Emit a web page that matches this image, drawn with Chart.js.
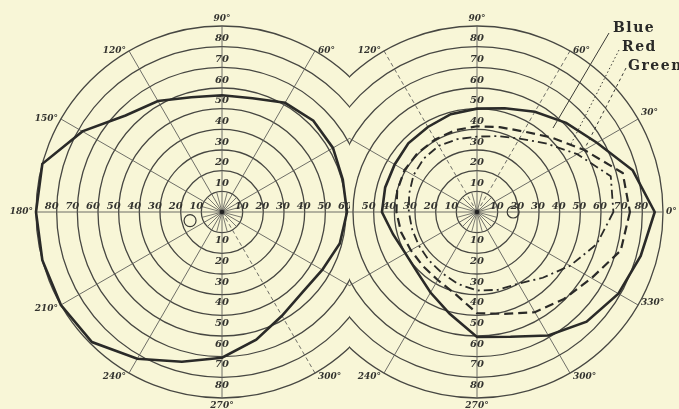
<!DOCTYPE html>
<html><head><meta charset="utf-8">
<script src="https://cdn.jsdelivr.net/npm/chart.js@4"></script>
<style>
html,body{margin:0;padding:0;background:#f8f6d7;width:679px;height:409px;overflow:hidden;position:relative}
.clip{position:absolute;top:0;height:409px;overflow:hidden}
#clipL{left:0;width:350px}
#clipR{left:350px;width:329px}
canvas{position:absolute}
</style></head><body>
<div class="clip" id="clipL"><canvas id="cL" width="432" height="432" style="left:6px;top:-4px"></canvas></div>
<div class="clip" id="clipR"><canvas id="cR" width="432" height="432" style="left:-89px;top:-4px"></canvas></div>
<script>
// meridians (degrees, counter-clockwise from the right-hand horizontal)
const meridians = [0,15,30,45,60,75,90,105,120,135,150,165,180,195,210,225,240,255,270,285,300,315,330,345];
// left eye: white field
const leftField  = [60.5,60.5,62,62.5,61,57,56.5,57.5,62,66,78,90,90,90,90,89,82,75,70.5,64,58,55,56,59];
// right eye: colour fields
const blueField  = [86,78,67,61,56,52,50,49,47.5,47,46,46,46,42,40,41,45,51,60.5,62.5,69,75,79,82];
const redField   = [74,73,60,51,45,42.5,41.5,41,40.5,40.5,40.5,40,39,38,37,37,38,41,49,51,56,59.5,64,72];
const greenField = [66,67,56,47,41,38,36.5,36.5,37,36.5,35.5,34,33,32.5,32.5,33,34,36,38,39,40,45,52,60];
// blind spots [meridian, degrees]
const leftBlindSpot  = [195, 16];
const rightBlindSpot = [0, 17.5];
// scale values and tick labels
const ringValues  = [10,20,30,40,50,60,70,80];
const angleMarks  = [0,30,60,90,120,150,180,210,240,270,300,330];
const angleLabels = ['0°','30°','60°','90°','120°','150°','180°','210°','240°','270°','300°','330°'];
const legendNames = ['Blue','Red','Green'];
const leftDashedSpokes  = [300];
const rightDashedSpokes = [60, 120];

const STEP = 15, N = meridians.length;
function radarIndex(theta){ return (((360 - theta) % 360) / STEP); }
function angleOfIndex(i){ return (360 - i * STEP) % 360; }
function toRadar(values){ const out = new Array(N); meridians.forEach((m,k)=>{ out[radarIndex(m)] = values[k]; }); return out; }
function spot(s){ const out = new Array(N).fill(null); out[radarIndex(s[0])] = s[1]; return out; }

const INK = '#2a2a28';
const numFont = "italic bold 10px 'DejaVu Serif'";
const angFont = "italic bold 9px 'DejaVu Serif'";

function makeDecor(cfg){
  return {
    id: 'decor',
    beforeDatasetsDraw(chart){
      const s = chart.scales.r, ctx = chart.ctx;
      ctx.save();
      ctx.strokeStyle = '#5a5a55'; ctx.lineWidth = 0.8;
      for (let i = 1; i < N; i += 2){
        const p = s.getPointPositionForValue(i, 10);
        ctx.beginPath(); ctx.moveTo(s.xCenter, s.yCenter); ctx.lineTo(p.x, p.y); ctx.stroke();
      }
      ctx.fillStyle = '#222';
      ctx.beginPath(); ctx.arc(s.xCenter, s.yCenter, 2.3, 0, Math.PI*2); ctx.fill();
      ctx.restore();
    },
    afterDatasetsDraw(chart){
      const s = chart.scales.r, ctx = chart.ctx;
      const at = (theta, dist) => s.getPointPosition(radarIndex(theta), dist);
      ctx.save();
      ctx.fillStyle = '#33332f';
      ctx.font = numFont;
      ctx.textAlign = 'center';
      ringValues.forEach(v => {
        const d = s.getDistanceFromCenterForValue(v);
        ctx.textBaseline = 'middle';
        let p = at(90, d + 8);  ctx.fillText(String(v), p.x, p.y);
        p = at(270, d + 8);     ctx.fillText(String(v), p.x, p.y);
        ctx.textBaseline = 'bottom';
        if (v <= cfg.maxLeft){ p = at(180, d + 5); ctx.fillText(String(v), p.x, p.y - 1); }
        if (v <= cfg.maxRight){ p = at(0, d - 1); ctx.fillText(String(v), p.x, p.y - 1); }
      });
      // meridian labels
      ctx.font = angFont;
      const R = s.getDistanceFromCenterForValue(90);
      angleMarks.forEach((a, k) => {
        const p = at(a, R);
        let x = p.x, y = p.y;
        if (a === 90){ ctx.textAlign = 'center'; ctx.textBaseline = 'bottom'; y -= 3; }
        else if (a === 270){ ctx.textAlign = 'center'; ctx.textBaseline = 'top'; y += 3; }
        else if (a > 90 && a < 270){ ctx.textAlign = 'right'; ctx.textBaseline = 'middle'; x -= 3; }
        else { ctx.textAlign = 'left'; ctx.textBaseline = 'middle'; x += 3; }
        if (a > 180 && a < 360 && a !== 270) y += 4;
        if (a === 30 || a === 330) y -= 6;
        ctx.fillText(angleLabels[k], x, y);
      });
      if (cfg.legend){
        const rect = chart.canvas.getBoundingClientRect();
        const ox = rect.left, oy = rect.top;
        const items = [
          {name: legendNames[0], tx: 613, ty: 28, from: [609, 33], to: [553, 128], dash: []},
          {name: legendNames[1], tx: 622, ty: 47, from: [619, 50], to: [571, 144], dash: [1.5, 2.5]},
          {name: legendNames[2], tx: 628, ty: 66, from: [626, 68], to: [584, 150], dash: [3, 3]}
        ];
        ctx.font = "bold 14px 'DejaVu Serif'";
        ctx.letterSpacing = '1.5px';
        ctx.textAlign = 'left'; ctx.textBaseline = 'middle';
        ctx.fillStyle = INK; ctx.strokeStyle = '#3a3a36'; ctx.lineWidth = 1;
        items.forEach(it => {
          ctx.fillText(it.name, it.tx - ox, it.ty - oy);
          ctx.setLineDash(it.dash);
          ctx.beginPath(); ctx.moveTo(it.from[0] - ox, it.from[1] - oy); ctx.lineTo(it.to[0] - ox, it.to[1] - oy); ctx.stroke();
        });
        ctx.setLineDash([]);
      }
      ctx.restore();
    }
  };
}

function scaleOpts(dashed){
  return { r: {
    min: 0, max: 90, startAngle: 90,
    ticks: { display: false, stepSize: 10 },
    grid: { circular: true, color: '#474742', lineWidth: 1.3 },
    angleLines: { display: true,
      color: c => (c.index % 2 === 0 ? '#5f5f5a' : 'rgba(0,0,0,0)'),
      lineWidth: c => (c.index % 2 === 0 ? 0.9 : 0),
      borderDash: c => (dashed.includes(angleOfIndex(c.index)) ? [4, 3] : []) },
    pointLabels: { display: false }
  }};
}
const common = {
  responsive: false, animation: false, devicePixelRatio: 1, events: [],
  layout: { padding: 30 },
  plugins: { legend: { display: false }, tooltip: { enabled: false } },
  elements: { point: { radius: 0 }, line: { tension: 0 } }
};
const radarLabels = toRadar(meridians.map(m => m + '°'));

function blindSet(s){
  return { data: spot(s), showLine: false, pointRadius: 6, pointBorderWidth: 1.2,
           pointBorderColor: '#3a3a36', pointBackgroundColor: 'rgba(0,0,0,0)', borderWidth: 0 };
}

new Chart(document.getElementById('cL'), {
  type: 'radar',
  data: { labels: radarLabels, datasets: [
    { label: 'Field', data: toRadar(leftField), borderColor: INK, borderWidth: 2.6, fill: false, pointRadius: 0 },
    blindSet(leftBlindSpot)
  ]},
  options: Object.assign({}, common, { scales: scaleOpts(leftDashedSpokes) }),
  plugins: [makeDecor({ maxLeft: 80, maxRight: 60, legend: false })]
});

new Chart(document.getElementById('cR'), {
  type: 'radar',
  data: { labels: radarLabels, datasets: [
    { label: legendNames[0], data: toRadar(blueField), borderColor: INK, borderWidth: 2.6, fill: false, pointRadius: 0 },
    { label: legendNames[1], data: toRadar(redField), borderColor: INK, borderWidth: 2.2, borderDash: [9, 5], fill: false, pointRadius: 0 },
    { label: legendNames[2], data: toRadar(greenField), borderColor: INK, borderWidth: 1.8, borderDash: [9, 4, 2, 4], fill: false, pointRadius: 0 },
    blindSet(rightBlindSpot)
  ]},
  options: Object.assign({}, common, { scales: scaleOpts(rightDashedSpokes) }),
  plugins: [makeDecor({ maxLeft: 50, maxRight: 80, legend: true })]
});
</script>
</body></html>
